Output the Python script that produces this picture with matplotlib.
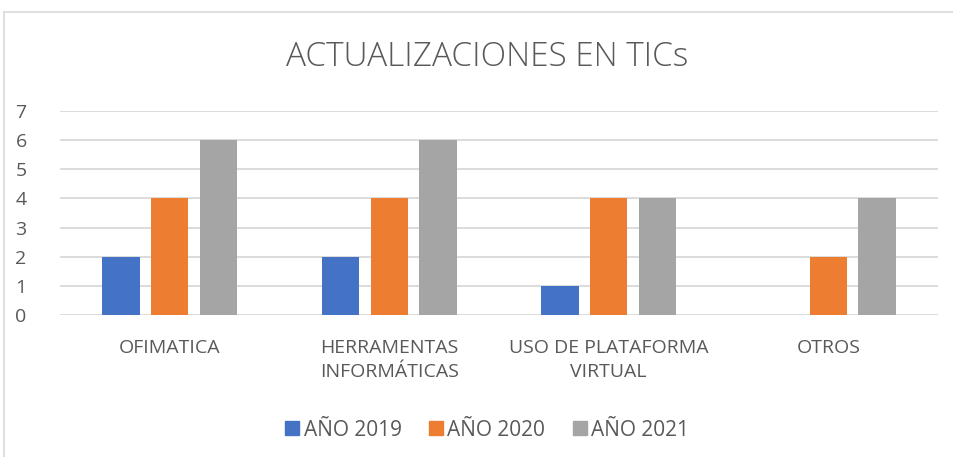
import matplotlib
matplotlib.use("Agg")
import matplotlib.pyplot as plt
from matplotlib.lines import Line2D
import numpy as np

# Data
categories = ["OFIMATICA", "HERRAMENTAS\nINFORMÁTICAS", "USO DE PLATAFORMA\nVIRTUAL", "OTROS"]
series_names = ["AÑO 2019", "AÑO 2020", "AÑO 2021"]
anio_2019 = [2, 2, 1, 0]
anio_2020 = [4, 4, 4, 2]
anio_2021 = [6, 6, 4, 4]
y_ticks = [0, 1, 2, 3, 4, 5, 6, 7]

_COLORS = ["#4472c4", "#ed7d31", "#a5a5a5"]
_TEXT = "#595959"
_GRID = "#d9d9d9"
_FONT = ["Open Sans", "DejaVu Sans"]

plt.rcParams["font.family"] = _FONT

fig = plt.figure(figsize=(9.54, 4.57), dpi=100)
fig.patch.set_facecolor("white")
ax = fig.add_axes([60 / 954, 142 / 457, 878 / 954, 204 / 457])

x = np.arange(len(categories))
width = 0.169
offset = 0.222
for i, (vals, name) in enumerate(zip([anio_2019, anio_2020, anio_2021], series_names)):
    ax.bar(x + (i - 1) * offset, vals, width=width, color=_COLORS[i], label=name, zorder=3)

ax.set_xlim(-0.5, len(categories) - 0.5)
ax.set_ylim(0, 7)
ax.set_yticks(y_ticks)
ax.set_xticks(x)
ax.set_xticklabels(categories, fontsize=14, color=_TEXT, linespacing=1.45)
ax.tick_params(axis="y", labelsize=14, labelcolor=_TEXT, length=0)
ax.tick_params(axis="x", length=0, pad=17)
ax.yaxis.grid(True, color=_GRID, linewidth=1.3, zorder=0)
ax.set_axisbelow(True)
for s in ax.spines.values():
    s.set_visible(False)

for lbl in ax.get_yticklabels():
    lbl.set_horizontalalignment("center")
ax.tick_params(axis="y", pad=28)

fig.text(487 / 954, 1 - 57 / 457, "ACTUALIZACIONES EN TICs", ha="center", va="center",
         fontsize=24, color=_TEXT, fontweight="light")

handles = [Line2D([0], [0], marker="s", linestyle="none", markersize=10,
                  markerfacecolor=c, markeredgecolor=c) for c in _COLORS]
fig.legend(handles, series_names, loc="center", bbox_to_anchor=(487 / 954, 1 - 430 / 457),
           ncol=3, frameon=False, fontsize=15, labelcolor=_TEXT, handlelength=0.7,
           handletextpad=0.2, columnspacing=1.3)

# chart border
fig.add_artist(Line2D([4 / 954, 4 / 954], [0, 1 - 12 / 457], transform=fig.transFigure,
                      color="#d9d9d9", linewidth=1.2))
fig.add_artist(Line2D([4 / 954, 1], [1 - 12 / 457, 1 - 12 / 457], transform=fig.transFigure,
                      color="#d9d9d9", linewidth=1.2))

fig.savefig("out.png", dpi=100, facecolor="white")
